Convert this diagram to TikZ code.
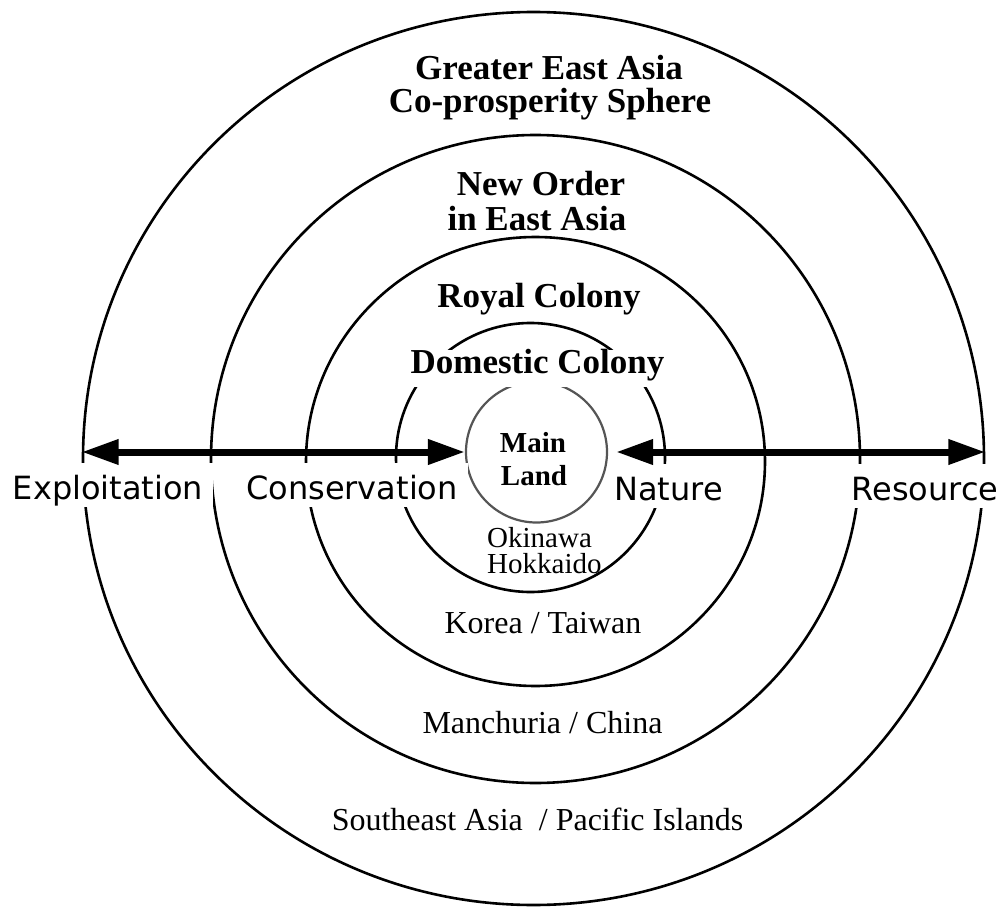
\documentclass[tikz,border=0pt]{standalone}
\usepackage{fontspec}
\setmainfont{Liberation Serif}
\newfontfamily\sansf{DejaVu Sans}
\usetikzlibrary{arrows.meta,shapes.geometric}
\begin{document}
\begin{tikzpicture}[x=1pt,y=-1pt,
  ring/.style={ellipse,draw=black,line width=2.6pt,inner sep=0pt},
  mainring/.style={ellipse,draw={rgb,255:red,85;green,85;blue,85},line width=2.2pt,inner sep=0pt,minimum width=141pt,minimum height=141pt},
  lab/.style={inner sep=0pt,anchor=base},
  bl/.style={lab,font=\fontsize{35}{35}\selectfont\bfseries},
  ml/.style={lab,font=\fontsize{29}{29}\selectfont\bfseries},
  rg/.style={lab,font=\fontsize{32}{32}\selectfont},
  sm/.style={inner sep=0pt,anchor=north west,align=left,font=\fontsize{29}{26}\selectfont},
  sn/.style={font=\sansf\fontsize{32}{32}\selectfont,fill=white,text height=36pt,text depth=8pt,inner ysep=0pt,anchor=base},
  arr/.style={line width=7pt,{Triangle[length=37pt,width=24pt]}-{Triangle[length=37pt,width=24pt]}}
]
\useasboundingbox[fill=white] (0,0) rectangle (1005,907);

% rings
\node[ring,minimum width=901pt,minimum height=893pt] (outer) at (533.5,458.5) {};
\node[ring,minimum width=649pt,minimum height=648pt] (second) at (535.5,459) {};
\node[ring,minimum width=459pt,minimum height=449pt] (third) at (535.5,461.5) {};
\node[ring,minimum width=269pt,minimum height=269pt] (domestic) at (530.5,457.5) {};
\node[mainring] (main) at (536.5,452) {};

% ring titles
\node[bl] (gea1) at (549,80) {Greater East Asia};
\node[bl] (gea2) at (550,113) {Co-prosperity Sphere};
\node[bl] (neo1) at (541,195) {New Order};
\node[bl] (neo2) at (537,230) {in East Asia};
\node[bl] (royal) at (539,307) {Royal Colony};
\node[bl,fill=white,text height=23pt,text depth=14pt,inner ysep=0pt,inner xsep=2pt] (dom) at (537.5,373) {Domestic Colony};
\node[ml] (main1) at (533,452) {Main};
\node[ml] (main2) at (534,485) {Land};

% regions
\node[sm] (okihok) at (487,527) {Okinawa\\Hokkaido};
\node[rg] (kor) at (543,633) {Korea / Taiwan};
\node[rg] (man) at (542.5,733) {Manchuria / China};
\node[rg] (sea) at (537.5,830) {Southeast Asia\ \ / Pacific Islands};

% axis labels
\node[sn,inner xsep=10pt] (expl) at (108,499) {Exploitation};
\node[sn,inner xsep=10pt] (cons) at (352,499) {Conservation};
\node[sn,inner xsep=4pt] (nat) at (668.5,500) {Nature};
\node[sn,inner xsep=4pt] (res) at (925,500) {Resource};

% arrows
\draw[arr] (outer.west |- main.west) -- (main.west);
\draw[arr,shorten <=8pt] (main.east) -- (outer.east |- main.east);
\end{tikzpicture}
\end{document}
